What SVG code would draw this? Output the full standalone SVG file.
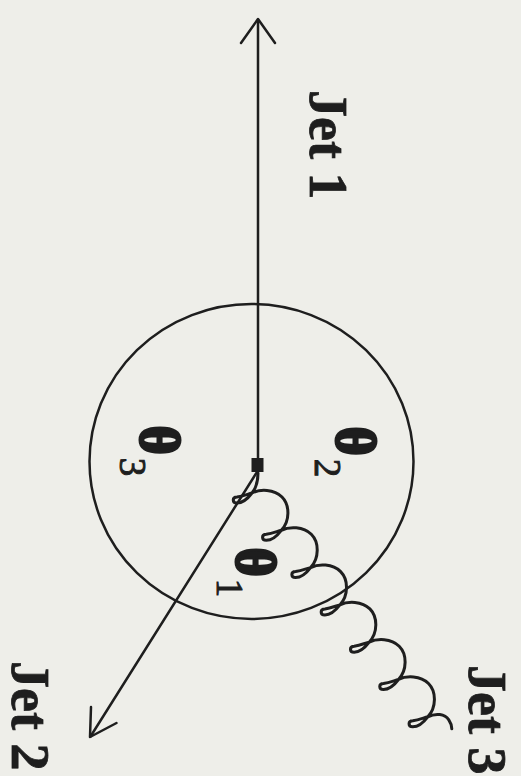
<svg xmlns="http://www.w3.org/2000/svg" width="521" height="776" viewBox="0 0 521 776">
<style>
.ln{fill:none;stroke:#1e1e1e;stroke-width:2.5;stroke-linecap:round;stroke-linejoin:round}
.spr{fill:none;stroke:#1e1e1e;stroke-width:3;stroke-linecap:round;stroke-linejoin:round}
.lbl{font-family:"Liberation Serif",serif;font-weight:bold;font-size:54px;fill:#1e1e1e;stroke:#1e1e1e;stroke-width:0.8}
.th{font-family:"Liberation Serif",serif;font-weight:bold;font-size:55px;fill:#1e1e1e;stroke:#1e1e1e;stroke-width:3;text-anchor:middle}
.sub{font-family:"Liberation Serif",serif;font-size:37px;fill:#1e1e1e;stroke:#1e1e1e;stroke-width:1;text-anchor:middle}
</style>
<rect width="521" height="776" fill="#eeeee9"/>
<g id="body">
<ellipse cx="251.5" cy="461.5" rx="162" ry="157.5" class="ln"/>
</g>
<g id="connectors">
<line x1="258" y1="20" x2="258" y2="465" class="ln"/>
<polyline points="241,43 258,19 275,43" class="ln" stroke-width="2.8"/>
<line x1="257" y1="472" x2="90.5" y2="736.5" class="ln"/>
<polyline points="91,707 90,737 116.5,723" class="ln" stroke-width="2.8"/>
<path id="jet3" class="spr" d="M258,473 C258,481 256,488 252,493
c -3,4 -9,10 -15,10 c -5,0 -5,-6 0,-6 c 6,-1 11,-3 15,-4
c 8,-4 22,-4 30,4 c 8,8 8,24 -0.7,33.3 c -3,4 -9,10 -15,10 c -5,0 -5,-6 0,-6 c 6,-1 11,-3 15,-4
c 8,-4 22,-4 30,4 c 8,8 8,24 -0.7,33.3 c -3,4 -9,10 -15,10 c -5,0 -5,-6 0,-6 c 6,-1 11,-3 15,-4
c 8,-4 22,-4 30,4 c 8,8 8,24 -0.7,33.3 c -3,4 -9,10 -15,10 c -5,0 -5,-6 0,-6 c 6,-1 11,-3 15,-4
c 8,-4 22,-4 30,4 c 8,8 8,24 -0.7,33.3 c -3,4 -9,10 -15,10 c -5,0 -5,-6 0,-6 c 6,-1 11,-3 15,-4
c 8,-4 22,-4 30,4 c 8,8 8,24 -0.7,33.3 c -3,4 -9,10 -15,10 c -5,0 -5,-6 0,-6 c 6,-1 11,-3 15,-4
c 8,-4 22,-4 30,4 c 8,8 8,24 -0.7,33.3 c -3,4 -9,10 -15,10 c -5,0 -5,-6 0,-6 c 6,-1 11,-3 15,-4
c 8,-4 17,-3 21,3 c 2,3 3,6 3,9"/>
</g>
<g id="center">
<rect x="251.5" y="458" width="12" height="14" fill="#1e1e1e"/>
</g>
<g id="jet1-label"><text class="lbl" transform="translate(310,90) rotate(90)">Jet 1</text></g>
<g id="jet2-label"><text class="lbl" transform="translate(12,661) rotate(90)">Jet 2</text></g>
<g id="jet3-label"><text class="lbl" transform="translate(469,665) rotate(90)">Jet 3</text></g>
<g id="theta1"><text class="th" transform="translate(237,562) rotate(90)">θ</text><text class="sub" transform="translate(217,588) rotate(90)">1</text></g>
<g id="theta2"><text class="th" transform="translate(337,441) rotate(90)">θ</text><text class="sub" transform="translate(315,468) rotate(90)">2</text></g>
<g id="theta3"><text class="th" transform="translate(141,440) rotate(90)">θ</text><text class="sub" transform="translate(120,467) rotate(90)">3</text></g>
</svg>
